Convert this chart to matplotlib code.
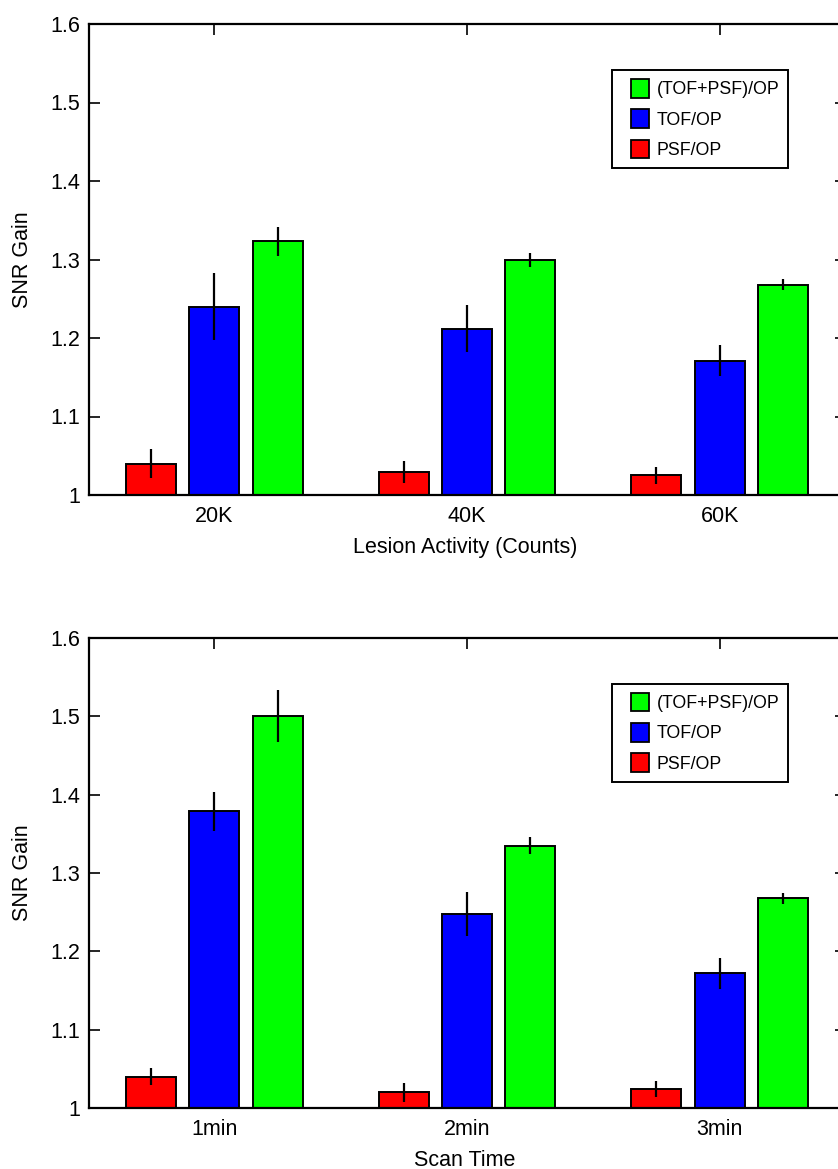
import matplotlib
matplotlib.use("Agg")
import matplotlib.pyplot as plt
import numpy as np
from matplotlib.patches import Patch, Rectangle
from matplotlib.legend_handler import HandlerPatch

plt.rcParams['font.family'] = ['Liberation Sans', 'DejaVu Sans']

series_names = ["PSF/OP", "TOF/OP", "(TOF+PSF)/OP"]
series_colors = ["#ff0000", "#0000ff", "#00ff00"]

# Panel 1: SNR gain versus lesion activity
activity_labels = ["20K", "40K", "60K"]
activity_gain = {
    "PSF/OP":       [1.040, 1.029, 1.025],
    "TOF/OP":       [1.240, 1.212, 1.171],
    "(TOF+PSF)/OP": [1.323, 1.299, 1.268],
}
activity_err = {
    "PSF/OP":       [0.018, 0.014, 0.011],
    "TOF/OP":       [0.043, 0.030, 0.020],
    "(TOF+PSF)/OP": [0.019, 0.009, 0.007],
}

# Panel 2: SNR gain versus scan time
time_labels = ["1min", "2min", "3min"]
time_gain = {
    "PSF/OP":       [1.040, 1.020, 1.024],
    "TOF/OP":       [1.379, 1.248, 1.172],
    "(TOF+PSF)/OP": [1.500, 1.335, 1.268],
}
time_err = {
    "PSF/OP":       [0.011, 0.012, 0.010],
    "TOF/OP":       [0.025, 0.028, 0.020],
    "(TOF+PSF)/OP": [0.033, 0.011, 0.007],
}

W, H = 838, 1169
fig = plt.figure(figsize=(W / 100, H / 100), dpi=100)

AX_LEFT, AX_W = 89, 757          # axes extent in pixels (right spine runs past the edge)
offsets = [-0.251, 0.0, 0.251]
bar_w = 0.198
FS = 15.5
LEG_FS = 12.8


def square_swatch(legend, orig_handle, xdescent, ydescent, width, height,
                  fontsize):
    # square colour swatch pushed to the right end of the handle box
    return Rectangle((-xdescent + width - height, -ydescent), height, height)


def draw_panel(ax, labels, gain, err, xlabel, ax_h_px):
    x = np.arange(1, len(labels) + 1)
    for name, color, off in zip(series_names, series_colors, offsets):
        ax.bar(x + off, np.array(gain[name]) - 1.0, width=bar_w, bottom=1.0,
               color=color, edgecolor="black", linewidth=1.4, zorder=2)
        ax.errorbar(x + off, gain[name], yerr=err[name], fmt="none",
                    ecolor="black", elinewidth=1.6, capsize=0, zorder=3)
    ax.set_xlim(0.504, 3.5)
    ax.set_ylim(1.0, 1.6)
    ax.set_xticks(x)
    ax.set_xticklabels(labels)
    ax.set_yticks([1.0, 1.1, 1.2, 1.3, 1.4, 1.5, 1.6])
    ax.set_yticklabels(["1", "1.1", "1.2", "1.3", "1.4", "1.5", "1.6"])
    ax.tick_params(direction="in", length=8, width=1.2, labelsize=FS,
                   top=True, right=True, colors="black")
    ax.tick_params(axis="x", pad=8)
    ax.tick_params(axis="y", pad=6.5)
    for s in ax.spines.values():
        s.set_linewidth(1.6)
    ax.set_xlabel(xlabel, fontsize=FS, va="baseline")
    ax.xaxis.set_label_coords((465 - AX_LEFT) / AX_W, -58 / ax_h_px)
    ax.set_ylabel("SNR Gain", fontsize=FS, va="baseline")
    ax.yaxis.set_label_coords((28 - AX_LEFT) / AX_W, 0.5)
    handles = [Patch(facecolor=c, edgecolor="black", linewidth=1.3)
               for c in series_colors[::-1]]
    leg = ax.legend(handles, series_names[::-1], loc="upper left",
                    bbox_to_anchor=(0.691, 0.902), borderaxespad=0,
                    fontsize=LEG_FS, handlelength=1.6, handleheight=1.22,
                    handletextpad=0.4, labelspacing=0.62, borderpad=0.5,
                    fancybox=False, framealpha=1, edgecolor="black",
                    handler_map={Patch: HandlerPatch(patch_func=square_swatch)})
    leg.get_frame().set_linewidth(1.4)


ax1 = fig.add_axes([AX_LEFT / W, 1 - 495 / H, AX_W / W, 471 / H])
draw_panel(ax1, activity_labels, activity_gain, activity_err,
           "Lesion Activity (Counts)", 471)

ax2 = fig.add_axes([AX_LEFT / W, 1 - 1108 / H, AX_W / W, 470 / H])
draw_panel(ax2, time_labels, time_gain, time_err, "Scan Time", 470)

fig.savefig("out.png", dpi=100)
